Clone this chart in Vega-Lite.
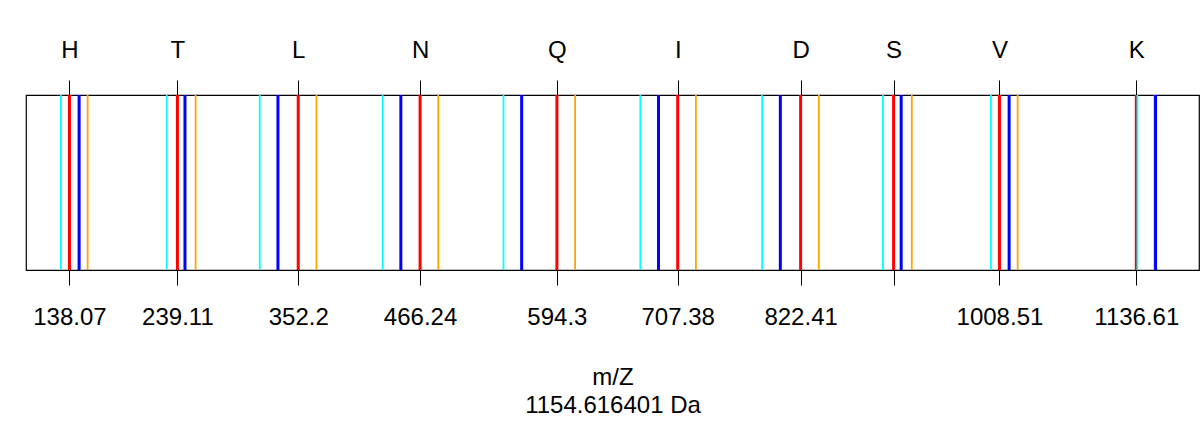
{
  "$schema": "https://vega.github.io/schema/vega-lite/v6.json",
  "width": 1173,
  "height": 175,
  "autosize": {"type": "none"},
  "padding": {"left": 26, "top": 95, "right": 2, "bottom": 155},
  "background": "white",
  "config": {
    "view": {"stroke": "black", "strokeWidth": 1.2},
    "font": "Liberation Sans"
  },
  "data": {
    "values": [
      {"ion": "b", "mz": 138.066188}, {"ion": "b", "mz": 239.113867}, {"ion": "b", "mz": 352.197931}, {"ion": "b", "mz": 466.240858}, {"ion": "b", "mz": 594.299436},
      {"ion": "b", "mz": 707.3835}, {"ion": "b", "mz": 822.410443}, {"ion": "b", "mz": 909.442471}, {"ion": "b", "mz": 1008.510885}, {"ion": "b", "mz": 1136.605848},
      {"ion": "y", "mz": 147.112804}, {"ion": "y", "mz": 246.181218}, {"ion": "y", "mz": 333.213246}, {"ion": "y", "mz": 448.240189}, {"ion": "y", "mz": 561.324253},
      {"ion": "y", "mz": 689.382831}, {"ion": "y", "mz": 803.425758}, {"ion": "y", "mz": 916.509822}, {"ion": "y", "mz": 1017.557501}, {"ion": "y", "mz": 1154.616413},
      {"ion": "c", "mz": 155.092737}, {"ion": "c", "mz": 256.140416}, {"ion": "c", "mz": 369.22448}, {"ion": "c", "mz": 483.267407}, {"ion": "c", "mz": 611.325985},
      {"ion": "c", "mz": 724.410049}, {"ion": "c", "mz": 839.436992}, {"ion": "c", "mz": 926.46902}, {"ion": "c", "mz": 1025.537434}, {"ion": "c", "mz": 1153.632397},
      {"ion": "z", "mz": 130.086255}, {"ion": "z", "mz": 229.154669}, {"ion": "z", "mz": 316.186697}, {"ion": "z", "mz": 431.21364}, {"ion": "z", "mz": 544.297704},
      {"ion": "z", "mz": 672.356282}, {"ion": "z", "mz": 786.399209}, {"ion": "z", "mz": 899.483273}, {"ion": "z", "mz": 1000.530952}, {"ion": "z", "mz": 1137.589864}
    ]
  },
  "layer": [
    {
      "transform": [{"filter": "datum.ion === 'c'"}],
      "mark": {"type": "rule", "color": "#FFA500", "strokeWidth": 1.8},
      "encoding": {
        "x": {
          "field": "mz", "type": "quantitative",
          "scale": {"domain": [97.4, 1195.28], "nice": false, "zero": false},
          "axis": {
            "orient": "bottom",
            "values": [138.066188, 239.113867, 352.197931, 466.240858, 594.299436, 707.3835, 822.410443, 909.442471, 1008.510885, 1136.605848],
            "labelExpr": "(datum.value > 900 && datum.value < 950) ? '' : format(datum.value, '.2~f')",
            "domain": false, "grid": false,
            "ticks": true, "tickSize": 15, "tickColor": "black", "tickWidth": 1,
            "labelFontSize": 24, "labelColor": "black", "labelFont": "Liberation Sans",
            "labelPadding": 20, "labelOverlap": false, "labelFlush": false,
            "title": ["m/Z", "1154.616401 Da"],
            "titleFontSize": 24, "titleFontWeight": "normal", "titleColor": "black", "titleFont": "Liberation Sans",
            "titlePadding": 36, "titleLineHeight": 28.8
          }
        }
      }
    },
    {
      "transform": [{"filter": "datum.ion === 'b'"}],
      "mark": {"type": "rule", "color": "#FF0000", "strokeWidth": 3},
      "encoding": {
        "x": {
          "field": "mz", "type": "quantitative",
          "axis": {
            "orient": "top",
            "values": [138.066188, 239.113867, 352.197931, 466.240858, 594.299436, 707.3835, 822.410443, 909.442471, 1008.510885, 1136.605848],
            "labelExpr": "datum.value < 200 ? 'H' : datum.value < 300 ? 'T' : datum.value < 400 ? 'L' : datum.value < 500 ? 'N' : datum.value < 650 ? 'Q' : datum.value < 750 ? 'I' : datum.value < 850 ? 'D' : datum.value < 950 ? 'S' : datum.value < 1050 ? 'V' : 'K'",
            "domain": false, "grid": false,
            "ticks": true, "tickSize": 15, "tickColor": "black", "tickWidth": 1,
            "labelFontSize": 24, "labelColor": "black", "labelFont": "Liberation Sans",
            "labelPadding": 18, "labelOverlap": false, "labelFlush": false,
            "title": null
          }
        }
      }
    },
    {
      "transform": [{"filter": "datum.ion === 'y'"}],
      "mark": {"type": "rule", "color": "#0000FF", "strokeWidth": 3},
      "encoding": {"x": {"field": "mz", "type": "quantitative", "axis": null}}
    },
    {
      "transform": [{"filter": "datum.ion === 'z'"}],
      "mark": {"type": "rule", "color": "#00FFFF", "strokeWidth": 1.8},
      "encoding": {"x": {"field": "mz", "type": "quantitative", "axis": null}}
    }
  ],
  "resolve": {"axis": {"x": "independent"}}
}
